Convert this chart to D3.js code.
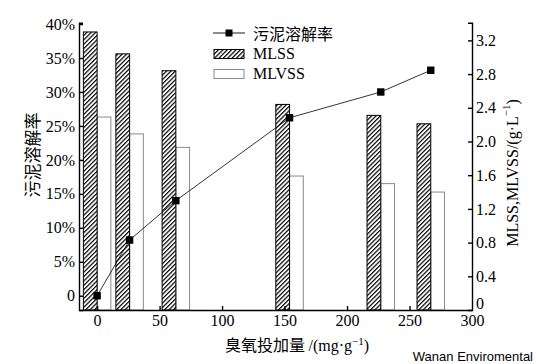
<!DOCTYPE html>
<html><head><meta charset="utf-8">
<script src="https://cdn.jsdelivr.net/npm/d3@7"></script>
<style>
html,body{margin:0;padding:0;background:#fff;}
svg{display:block;}
</style></head>
<body>
<svg id="chart" width="536" height="364"></svg>
<script>
// Data
const doses = [0, 26, 63, 154, 227, 267];
const solubilization = [0, 8.2, 14.0, 26.2, 30.0, 33.2]; // %
const mlss = [3.30, 3.04, 2.84, 2.44, 2.31, 2.21];      // g/L
const mlvss = [2.29, 2.09, 1.93, 1.59, 1.50, 1.40];     // g/L
const xTicks = [0, 50, 100, 150, 200, 250, 300];
const leftTicks = [0, 5, 10, 15, 20, 25, 30, 35, 40];
const rightTicks = [0, 0.4, 0.8, 1.2, 1.6, 2.0, 2.4, 2.8, 3.2];
const seriesNames = ["污泥溶解率", "MLSS", "MLVSS"];
const barHalf = 11;

const svg = d3.select("#chart");
svg.append("rect").attr("width", 536).attr("height", 364).attr("fill", "#fff");

const L = 79, R = 472, T = 22.7, B = 310;
const x = d3.scaleLinear().domain([-14.5, 300]).range([L, R]);
const yL = d3.scaleLinear().domain([-2.1, 40.2]).range([B, T]);
const yR = d3.scaleLinear().domain([0, 3.41]).range([B, T]);

const defs = svg.append("defs");
const pat = defs.append("pattern").attr("id", "hatch")
  .attr("patternUnits", "userSpaceOnUse").attr("width", 3.1).attr("height", 3.1)
  .attr("patternTransform", "rotate(45)");
pat.append("rect").attr("width", 3.1).attr("height", 3.1).attr("fill", "#fff");
pat.append("line").attr("x1", 0.6).attr("y1", 0).attr("x2", 0.6).attr("y2", 3.1)
  .attr("stroke", "#000").attr("stroke-width", 1.2);

const serif = "'Liberation Serif','Times New Roman',serif";
const cjk = "'Noto Sans CJK SC','Noto Sans',sans-serif";

// Bars
const g = svg.append("g");
g.selectAll("rect.mlvss").data(doses).join("rect").attr("class", "mlvss")
  .attr("x", (d) => x(d)).attr("width", (d) => x(d + barHalf) - x(d))
  .attr("y", (d, i) => yR(mlvss[i])).attr("height", (d, i) => B - yR(mlvss[i]))
  .attr("fill", "#fff").attr("stroke", "#8a8a8a").attr("stroke-width", 1);
g.selectAll("rect.mlss").data(doses).join("rect").attr("class", "mlss")
  .attr("x", (d) => x(d - barHalf)).attr("width", (d) => x(d) - x(d - barHalf))
  .attr("y", (d, i) => yR(mlss[i])).attr("height", (d, i) => B - yR(mlss[i]))
  .attr("fill", "url(#hatch)").attr("stroke", "#000").attr("stroke-width", 1);

// Line
const line = d3.line().x((d) => x(d)).y((d, i) => yL(solubilization[i]));
g.append("path").datum(doses).attr("d", line).attr("fill", "none")
  .attr("stroke", "#000").attr("stroke-width", 0.8);
g.selectAll("rect.pt").data(doses).join("rect").attr("class", "pt")
  .attr("x", (d) => x(d) - 3.7).attr("y", (d, i) => yL(solubilization[i]) - 3.7)
  .attr("width", 7.4).attr("height", 7.4).attr("fill", "#000");

// Axes
function styleAxis(sel) {
  sel.attr("font-family", null).attr("font-size", null);
  sel.selectAll("path,line").attr("stroke", "#000").attr("stroke-width", 1.4);
  sel.selectAll("text").style("font-family", serif).style("font-size", "16px").attr("fill", "#000");
}
const ax = svg.append("g").attr("transform", `translate(0,${B})`)
  .call(d3.axisBottom(x).tickValues(xTicks).tickSize(-4).tickSizeOuter(0).tickPadding(5).tickFormat(d3.format("d")));
styleAxis(ax);
ax.selectAll(".tick").filter((d) => d === 300).select("line").remove();

const al = svg.append("g").attr("transform", `translate(${L},0)`)
  .call(d3.axisLeft(yL).tickValues(leftTicks).tickSize(-4).tickSizeOuter(-4).tickPadding(4)
    .tickFormat((d) => d === 0 ? "0" : d + "%"));
styleAxis(al);

const ar = svg.append("g").attr("transform", `translate(${R},0)`)
  .call(d3.axisRight(yR).tickValues(rightTicks).tickSize(-4).tickSizeOuter(-4).tickPadding(4)
    .tickFormat((d) => d === 0 ? "0" : d3.format(".1f")(d)));
styleAxis(ar);
ar.selectAll(".tick").filter((d) => d === 0).select("line").remove();
ar.selectAll(".tick").filter((d) => d === 0).select("text").attr("dy", "-0.1em");

// Titles
svg.append("text").attr("transform", "translate(31,155) rotate(-90)")
  .attr("text-anchor", "middle").attr("dominant-baseline", "central")
  .style("font-family", cjk).style("font-size", "17px").text("污泥溶解率");

const rt = svg.append("text").attr("transform", "translate(512,173) rotate(-90)")
  .attr("text-anchor", "middle").attr("dominant-baseline", "central")
  .style("font-family", serif).style("font-size", "16px");
rt.append("tspan").text("MLSS,MLVSS/(g·L");
rt.append("tspan").attr("dy", -6).style("font-size", "11px").text("−1");
rt.append("tspan").attr("dy", 6).text(")");

const xt = svg.append("text").attr("x", 297).attr("y", 351).attr("text-anchor", "middle")
  .style("font-size", "16px");
xt.append("tspan").style("font-family", cjk).text("臭氧投加量 ");
xt.append("tspan").style("font-family", serif).text("/(mg·g");
xt.append("tspan").style("font-family", serif).attr("dy", -6).style("font-size", "11px").text("−1");
xt.append("tspan").style("font-family", serif).attr("dy", 6).text(")");

// Legend
const lg = svg.append("g");
lg.append("line").attr("x1", 213).attr("x2", 245).attr("y1", 33).attr("y2", 33)
  .attr("stroke", "#000").attr("stroke-width", 0.9);
lg.append("rect").attr("x", 225.5).attr("y", 29.5).attr("width", 7).attr("height", 7).attr("fill", "#000");
lg.append("rect").attr("x", 214).attr("y", 49.5).attr("width", 30).attr("height", 9)
  .attr("fill", "url(#hatch)").attr("stroke", "#000").attr("stroke-width", 1);
lg.append("rect").attr("x", 214).attr("y", 69.5).attr("width", 30).attr("height", 9)
  .attr("fill", "#fff").attr("stroke", "#8a8a8a").attr("stroke-width", 1);
lg.selectAll("text").data(seriesNames).join("text")
  .attr("x", 253).attr("y", (d, i) => 33 + i * 20).attr("dominant-baseline", "central")
  .style("font-family", (d, i) => i === 0 ? cjk : serif).style("font-size", "16px").text((d) => d);

// Watermark
svg.append("text").attr("x", 533).attr("y", 361).attr("text-anchor", "end")
  .style("font-family", "'Liberation Sans',Arial,sans-serif").style("font-size", "13px")
  .attr("fill", "#000").text("Wanan Enviromental");
</script>
</body></html>
